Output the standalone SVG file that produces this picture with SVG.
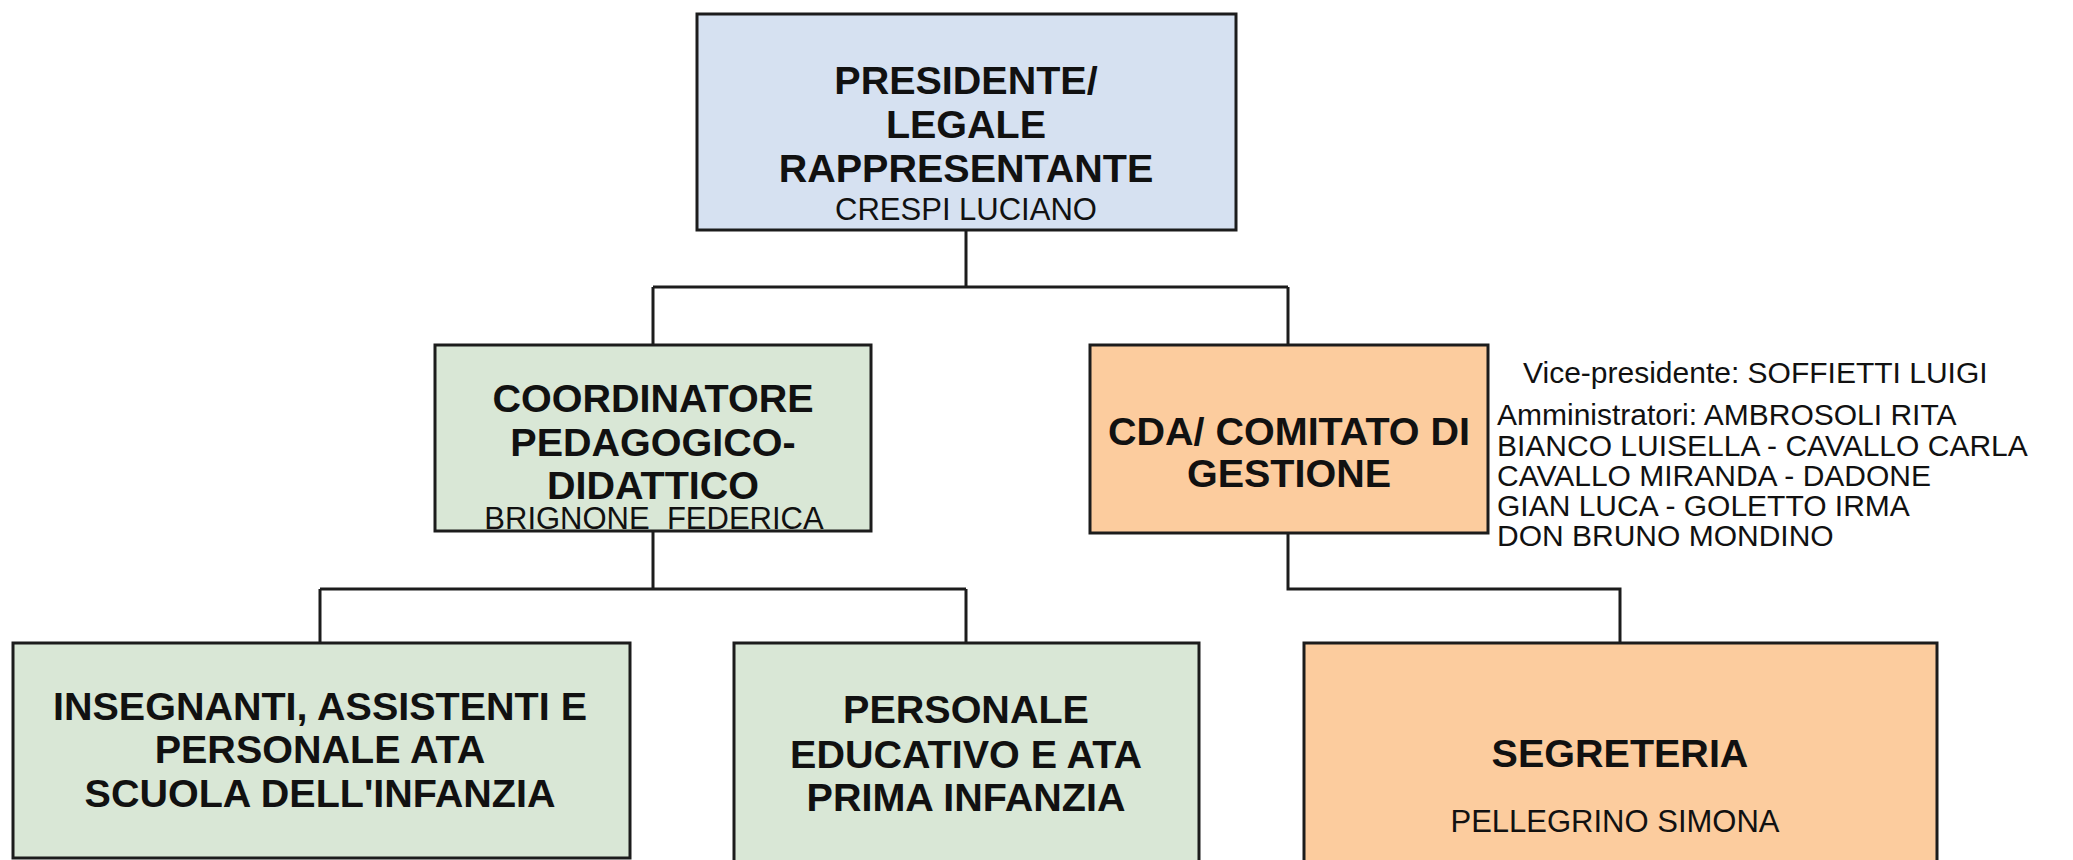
<svg xmlns="http://www.w3.org/2000/svg" width="2073" height="860" viewBox="0 0 2073 860">
<style>
.box{stroke:#1c1c1c;stroke-width:3}
.blue{fill:#d6e1f1}
.green{fill:#d9e7d6}
.orange{fill:#fccc9e}
.b{font-family:"Liberation Sans",Arial,sans-serif;font-weight:bold;font-size:39.5px;fill:#111;text-anchor:middle}
.r{font-family:"Liberation Sans",Arial,sans-serif;font-size:31px;fill:#111;text-anchor:middle}
.s{font-family:"Liberation Sans",Arial,sans-serif;font-size:30px;fill:#111}
.conn{fill:none;stroke:#1c1c1c;stroke-width:3}
</style>
<rect width="2073" height="860" fill="#fff"/>
<g id="connectors">
<path class="conn" d="M966 230V287M653 287H1288M653 287V345M1288 287V345"/>
<path class="conn" d="M653 531V589M320 589H966M320 589V643M966 589V643"/>
<path class="conn" d="M1288 533V589H1620V643"/>
</g>
<g id="presidente">
<rect class="box blue" x="697" y="14" width="539" height="216"/>
<text class="b" x="966" y="94">PRESIDENTE/</text>
<text class="b" x="966" y="138">LEGALE</text>
<text class="b" x="966" y="182">RAPPRESENTANTE</text>
<text class="r" x="966" y="220">CRESPI LUCIANO</text>
</g>
<g id="coordinatore">
<rect class="box green" x="435" y="345" width="436" height="186"/>
<text class="b" x="653" y="412">COORDINATORE</text>
<text class="b" x="653" y="456">PEDAGOGICO-</text>
<text class="b" x="653" y="499">DIDATTICO</text>
<text class="r" x="654" y="529" xml:space="preserve">BRIGNONE  FEDERICA</text>
</g>
<g id="cda">
<rect class="box orange" x="1090" y="345" width="398" height="188"/>
<text class="b" x="1289" y="445">CDA/ COMITATO DI</text>
<text class="b" x="1289" y="487">GESTIONE</text>
</g>
<g id="cda-membri">
<text class="s" x="1523" y="383">Vice-presidente: SOFFIETTI LUIGI</text>
<text class="s" x="1497" y="425">Amministratori: AMBROSOLI RITA</text>
<text class="s" x="1497" y="456">BIANCO LUISELLA - CAVALLO CARLA</text>
<text class="s" x="1497" y="486">CAVALLO MIRANDA - DADONE</text>
<text class="s" x="1497" y="516">GIAN LUCA - GOLETTO IRMA</text>
<text class="s" x="1497" y="546">DON BRUNO MONDINO</text>
</g>
<g id="insegnanti">
<rect class="box green" x="13" y="643" width="617" height="215"/>
<text class="b" x="320" y="720">INSEGNANTI, ASSISTENTI E</text>
<text class="b" x="320" y="763">PERSONALE ATA</text>
<text class="b" x="320" y="807">SCUOLA DELL'INFANZIA</text>
</g>
<g id="personale-educativo">
<rect class="box green" x="734" y="643" width="465" height="230"/>
<text class="b" x="966" y="723">PERSONALE</text>
<text class="b" x="966" y="768">EDUCATIVO E ATA</text>
<text class="b" x="966" y="811">PRIMA INFANZIA</text>
</g>
<g id="segreteria">
<rect class="box orange" x="1304" y="643" width="633" height="230"/>
<text class="b" x="1620" y="767">SEGRETERIA</text>
<text class="r" x="1615" y="832">PELLEGRINO SIMONA</text>
</g>
</svg>
